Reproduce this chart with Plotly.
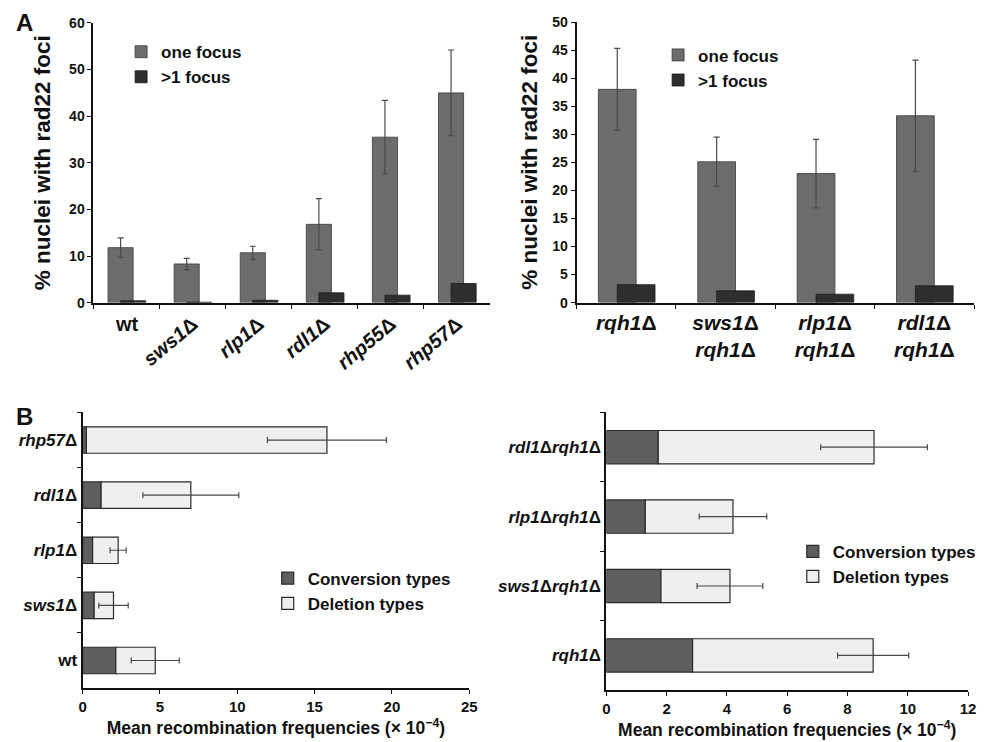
import plotly.graph_objects as go

# ---------- Panel A (left) ----------
a1_categories = ["wt", "<i>sws1</i>Δ", "<i>rlp1</i>Δ", "<i>rdl1</i>Δ", "<i>rhp55</i>Δ", "<i>rhp57</i>Δ"]
a1_one_focus = [11.8, 8.3, 10.7, 16.8, 35.5, 45.0]
a1_one_focus_err = [2.1, 1.2, 1.4, 5.5, 7.9, 9.2]
a1_multi_focus = [0.4, 0.1, 0.5, 2.1, 1.6, 4.1]
a1_yticks = [0, 10, 20, 30, 40, 50, 60]

# ---------- Panel A (right) ----------
a2_categories = ["<i>rqh1</i>Δ", "<i>sws1</i>Δ<br><i>rqh1</i>Δ", "<i>rlp1</i>Δ<br><i>rqh1</i>Δ", "<i>rdl1</i>Δ<br><i>rqh1</i>Δ"]
a2_one_focus = [38.0, 25.1, 23.0, 33.3]
a2_one_focus_err = [7.3, 4.4, 6.1, 9.9]
a2_multi_focus = [3.2, 2.1, 1.5, 3.0]
a2_yticks = [0, 5, 10, 15, 20, 25, 30, 35, 40, 45, 50]

# ---------- Panel B (left) ----------
b1_categories = ["<i>rhp57</i>Δ", "<i>rdl1</i>Δ", "<i>rlp1</i>Δ", "<i>sws1</i>Δ", "wt"]
b1_conversion = [0.25, 1.2, 0.65, 0.75, 2.15]
b1_total = [15.8, 7.0, 2.3, 2.0, 4.7]
b1_total_err = [3.85, 3.1, 0.52, 0.95, 1.55]
b1_xticks = [0, 5, 10, 15, 20, 25]

# ---------- Panel B (right) ----------
b2_categories = ["<i>rdl1</i>Δ<i>rqh1</i>Δ", "<i>rlp1</i>Δ<i>rqh1</i>Δ", "<i>sws1</i>Δ<i>rqh1</i>Δ", "<i>rqh1</i>Δ"]
b2_conversion = [1.72, 1.29, 1.81, 2.86]
b2_total = [8.88, 4.2, 4.1, 8.85]
b2_total_err = [1.77, 1.12, 1.09, 1.18]
b2_xticks = [0, 2, 4, 6, 8, 10, 12]

FONT = "Liberation Sans, Arial, sans-serif"
ONE_COL = "#6c6c6c"
MULTI_COL = "#2e2e2e"
CONV_COL = "#5e5e5e"
DEL_COL = "#efefef"
EDGE = "#2a2a2a"
ERR = dict(type="data", visible=True, color="#4a4a4a", thickness=1.2, width=3)

fig = go.Figure()

for cats, one, err, multi, xa, ya, lg in [
    (a1_categories, a1_one_focus, a1_one_focus_err, a1_multi_focus, "x", "y", "legend"),
    (a2_categories, a2_one_focus, a2_one_focus_err, a2_multi_focus, "x2", "y2", "legend2"),
]:
    fig.add_trace(go.Bar(
        x=cats, y=one, name="one focus", xaxis=xa, yaxis=ya, legend=lg,
        width=0.38, offset=-0.28,
        marker=dict(color=ONE_COL, line=dict(color="#3a3a3a", width=0.8)),
        error_y=dict(array=err, **ERR),
    ))
    fig.add_trace(go.Bar(
        x=cats, y=multi, name=">1 focus", xaxis=xa, yaxis=ya, legend=lg,
        width=0.38, offset=-0.09,
        marker=dict(color=MULTI_COL, line=dict(color="#1a1a1a", width=0.8)),
    ))

for cats, conv, tot, err, xa, ya, lg in [
    (b1_categories, b1_conversion, b1_total, b1_total_err, "x3", "y3", "legend3"),
    (b2_categories, b2_conversion, b2_total, b2_total_err, "x4", "y4", "legend4"),
]:
    fig.add_trace(go.Bar(
        y=cats, x=conv, orientation="h", name="Conversion types",
        xaxis=xa, yaxis=ya, legend=lg, width=0.48,
        marker=dict(color=CONV_COL, line=dict(color=EDGE, width=1.2)),
    ))
    fig.add_trace(go.Bar(
        y=cats, x=[t - c for t, c in zip(tot, conv)], base=conv, orientation="h",
        name="Deletion types", xaxis=xa, yaxis=ya, legend=lg, width=0.48,
        marker=dict(color=DEL_COL, line=dict(color=EDGE, width=1.2)),
        error_x=dict(array=err, **ERR),
    ))

axis_common = dict(showline=True, linecolor="#111", linewidth=2, ticks="outside",
                   tickcolor="#111", ticklen=4, showgrid=False, zeroline=False,
                   ticklabeloverflow="allow")
ytitle_font = dict(size=22.5, family=FONT, color="#111", weight="bold")
xtitle = dict(text="Mean recombination frequencies (× 10<sup>−4</sup>)",
              font=dict(size=17.5, weight="bold"), standoff=8)

# "wt" is printed upright in the original, the mutant labels are slanted
a1_ticktext = ["" if c == "wt" else c for c in a1_categories]

fig.update_layout(
    width=988, height=742,
    margin=dict(l=0, r=0, t=0, b=0),
    paper_bgcolor="white", plot_bgcolor="white",
    barmode="overlay",
    font=dict(family=FONT, color="#111", size=14),
    showlegend=True,
    xaxis=dict(domain=[0.0835, 0.4898], anchor="y", type="category", tickson="boundaries",
               tickmode="array", tickvals=a1_categories, ticktext=a1_ticktext,
               tickangle=-40, tickfont=dict(size=20, family=FONT, weight="bold"), **axis_common),
    yaxis=dict(domain=[0.6052, 0.9904], anchor="x", range=[0, 60], tickvals=a1_yticks,
               tickfont=dict(size=14, weight="bold"),
               title=dict(text="% nuclei with rad22 foci", font=ytitle_font, standoff=12), **axis_common),
    xaxis2=dict(domain=[0.5784, 0.9857], anchor="y2", type="category", tickson="boundaries",
                tickangle=0, tickfont=dict(size=21, family=FONT, weight="bold"), **axis_common),
    yaxis2=dict(domain=[0.6052, 0.9917], anchor="x2", range=[0, 50], tickvals=a2_yticks,
                tickfont=dict(size=14, weight="bold"),
                title=dict(text="% nuclei with rad22 foci", font=ytitle_font, standoff=8), **axis_common),
    xaxis3=dict(domain=[0.0723, 0.4685], anchor="y3", range=[0, 25], tickvals=b1_xticks,
                tickfont=dict(size=15, weight="bold"), title=xtitle, **axis_common),
    yaxis3=dict(domain=[0.0743, 0.4539], anchor="x3", type="category", tickson="boundaries",
                autorange="reversed", tickfont=dict(size=17, weight="bold"), **axis_common),
    xaxis4=dict(domain=[0.609, 0.9796], anchor="y4", range=[0, 12], tickvals=b2_xticks,
                tickfont=dict(size=15, weight="bold"), title=xtitle, **axis_common),
    yaxis4=dict(domain=[0.0715, 0.4539], anchor="x4", type="category", tickson="boundaries",
                autorange="reversed", tickfont=dict(size=17, weight="bold"), **axis_common),
    legend=dict(x=0.1118, y=0.975, xanchor="left", yanchor="top", bgcolor="rgba(0,0,0,0)",
                font=dict(size=17, weight="bold"), itemwidth=30),
    legend2=dict(x=0.662, y=0.9706, xanchor="left", yanchor="top", bgcolor="rgba(0,0,0,0)",
                 font=dict(size=17, weight="bold"), itemwidth=30),
    legend3=dict(x=0.262, y=0.2498, xanchor="left", yanchor="top", bgcolor="rgba(0,0,0,0)",
                 font=dict(size=17, weight="bold"), itemwidth=30),
    legend4=dict(x=0.8, y=0.2868, xanchor="left", yanchor="top", bgcolor="rgba(0,0,0,0)",
                 font=dict(size=17, weight="bold"), itemwidth=30),
    annotations=[
        dict(text="<b>A</b>", x=0.0132, y=0.9904, xref="paper", yref="paper", showarrow=False,
             font=dict(size=24, family=FONT), xanchor="center", yanchor="middle"),
        dict(text="<b>B</b>", x=0.0132, y=0.4484, xref="paper", yref="paper", showarrow=False,
             font=dict(size=24, family=FONT), xanchor="center", yanchor="middle"),
        dict(text="<b>wt</b>", x="wt", xref="x", y=0.5763, yref="paper", showarrow=False,
             font=dict(size=20, family=FONT), xanchor="center", yanchor="middle"),
    ],
)

fig.write_html("out.html")
